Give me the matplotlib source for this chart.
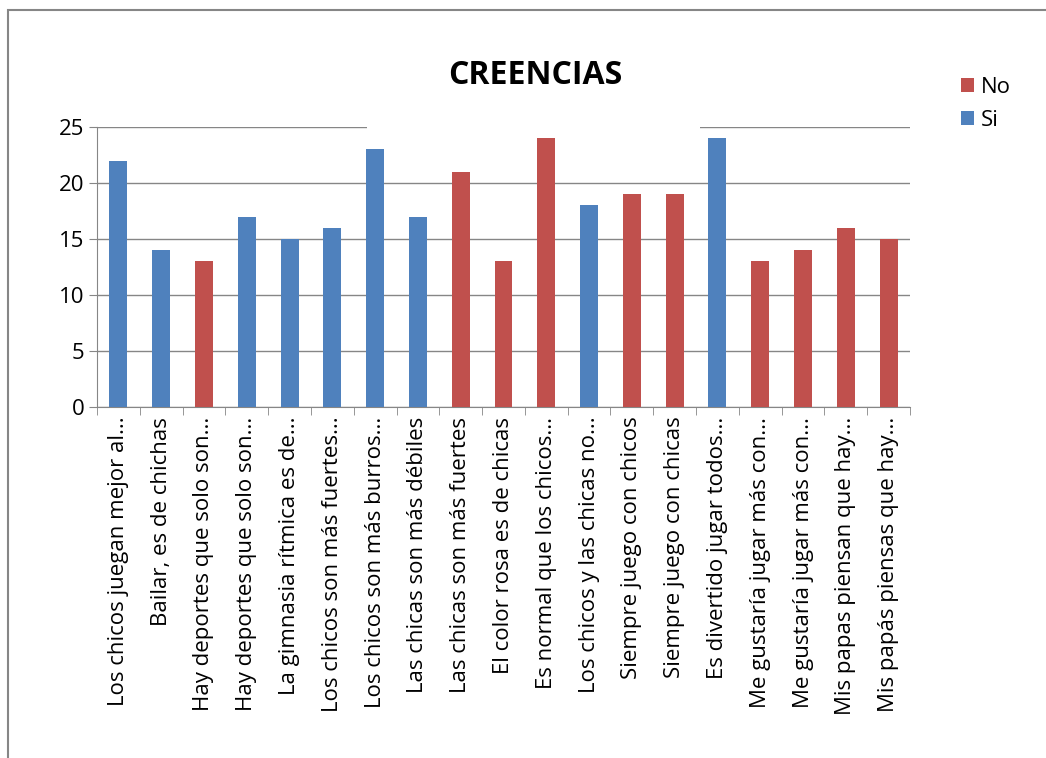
import matplotlib.pyplot as plt
import matplotlib.patches as mpatches
import numpy as np

categorias = [
    'Los chicos juegan mejor al...',
    'Bailar, es de chichas',
    'Hay deportes que solo son...',
    'Hay deportes que solo son...',
    'La gimnasia rítmica es de...',
    'Los chicos son más fuertes...',
    'Los chicos son más burros...',
    'Las chicas son más débiles',
    'Las chicas son más fuertes',
    'El color rosa es de chicas',
    'Es normal que los chicos...',
    'Los chicos y las chicas no...',
    'Siempre juego con chicos',
    'Siempre juego con chicas',
    'Es divertido jugar todos...',
    'Me gustaría jugar más con...',
    'Me gustaría jugar más con...',
    'Mis papas piensan que hay...',
    'Mis papás piensas que hay...',
]
si = [22, 14, 0, 17, 15, 16, 23, 17, 0, 0, 0, 18, 0, 0, 24, 0, 0, 0, 0]
no = [0, 0, 13, 0, 0, 0, 0, 0, 21, 13, 24, 0, 19, 19, 0, 13, 14, 16, 15]

plt.rcParams['font.family'] = ['Open Sans', 'DejaVu Sans']

W, H = 1046, 758
fig = plt.figure(figsize=(W / 100, H / 100), dpi=100)
ax = fig.add_axes([97 / W, 1 - 407 / H, (910 - 97) / W, (407 - 127) / H])

x = np.arange(len(categorias))
ax.bar(x, si, width=0.42, color='#4F81BD', label='Si', zorder=3)
ax.bar(x, no, width=0.42, bottom=si, color='#C0504D', label='No', zorder=3)

ax.set_xlim(-0.5, len(categorias) - 0.5)
ax.set_ylim(0, 25)
ax.set_yticks(range(0, 26, 5))
ax.yaxis.grid(True, color='#868686', linewidth=1, zorder=0)
ax.set_xticks(x)
ax.set_xticklabels(categorias, rotation=90, fontsize=16)
ax.set_xticks(np.arange(-0.5, len(categorias), 1), minor=True)
ax.tick_params(axis='x', which='major', length=0, pad=7)
ax.tick_params(axis='x', which='minor', length=6, color='#868686')
ax.tick_params(axis='y', labelsize=16, length=6, color='#868686', pad=3)
for s in ['top', 'right']:
    ax.spines[s].set_visible(False)
for s in ['left', 'bottom']:
    ax.spines[s].set_color('#868686')

# white strip behind the title over the top gridline
fig.add_artist(mpatches.Rectangle((367 / W, 1 - 130 / H), 333 / W, 6 / H,
                                  transform=fig.transFigure,
                                  facecolor='white', edgecolor='none', zorder=5))

fig.text(535 / W, 1 - 76 / H, 'CREENCIAS', ha='center', va='center',
         fontsize=23, fontweight='bold')

handles, labels = ax.get_legend_handles_labels()
fig.legend(handles[::-1], labels[::-1], loc='upper left',
           bbox_to_anchor=(952 / W, 1 - 68 / H), frameon=False,
           fontsize=16, handlelength=0.6, handleheight=0.6, handletextpad=0.3,
           labelspacing=0.55, borderaxespad=0)

# outer chart border
fig.add_artist(mpatches.Rectangle((8 / W, -0.01), 1.1, 1 - 10 / H + 0.01,
                                  transform=fig.transFigure, fill=False,
                                  edgecolor='#868686', linewidth=1.5))

fig.savefig('out.png', dpi=100)
